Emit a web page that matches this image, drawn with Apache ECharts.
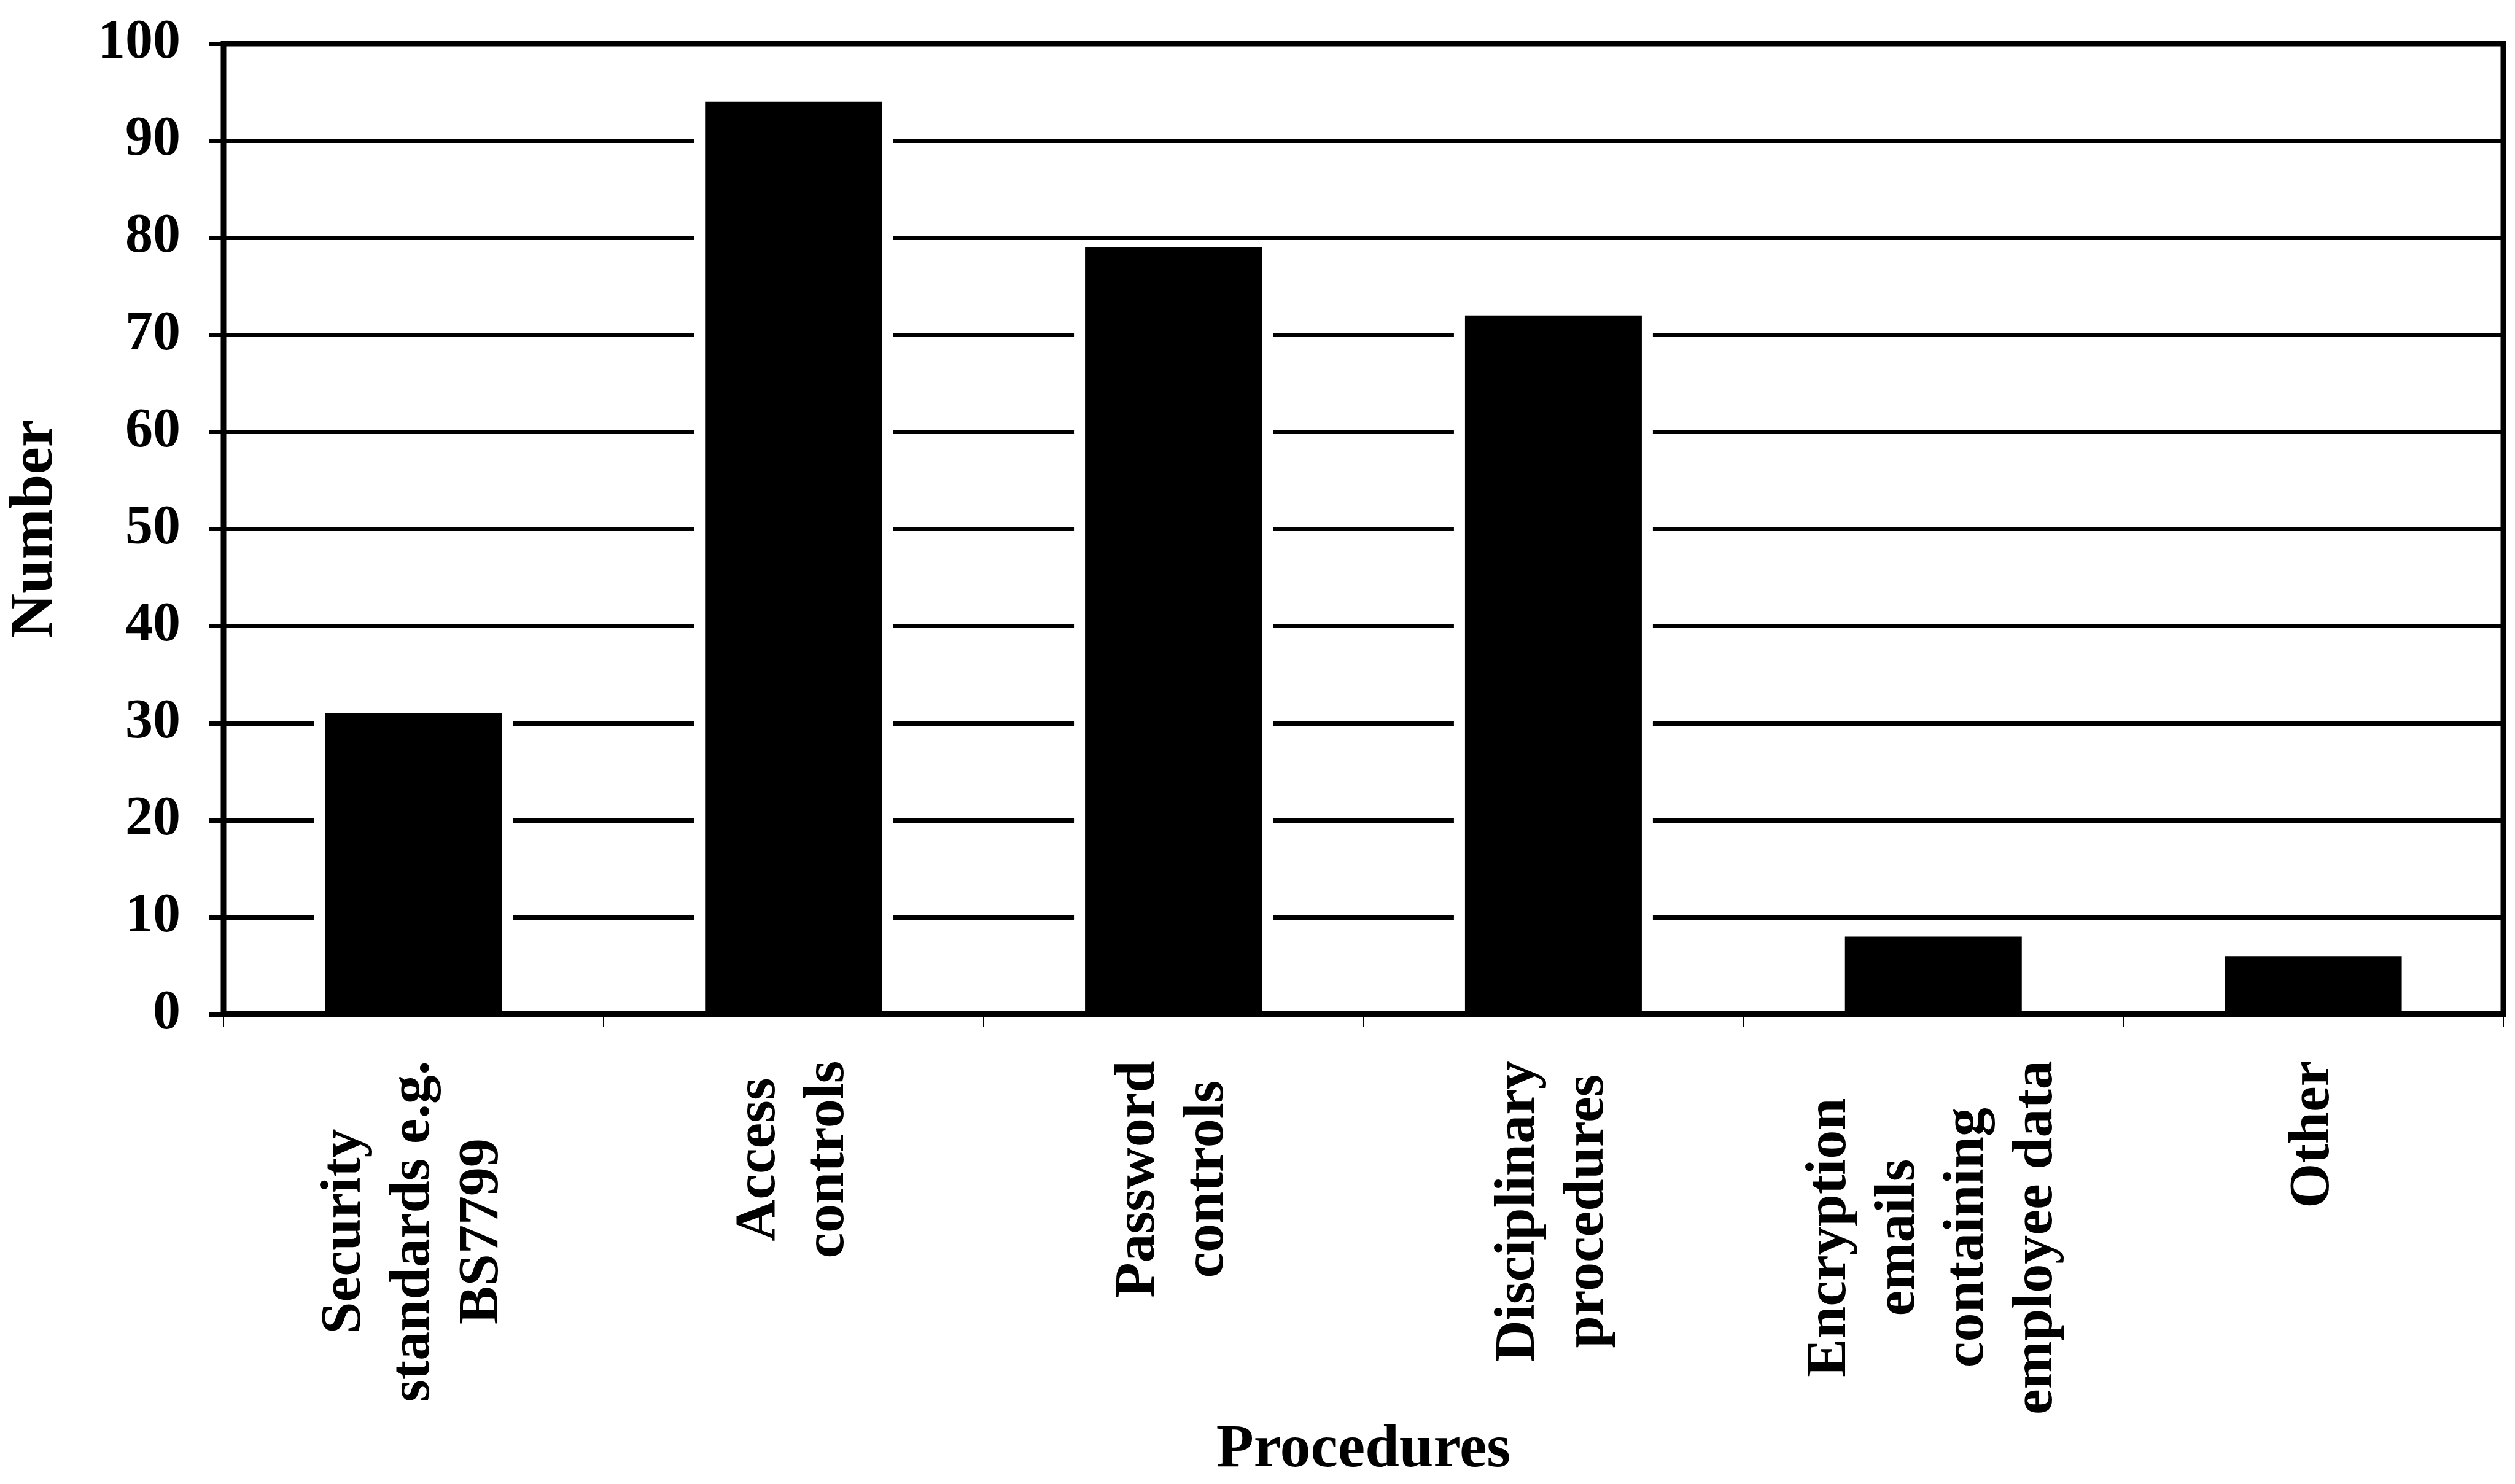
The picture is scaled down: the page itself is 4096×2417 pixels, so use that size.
<!DOCTYPE html>
<html>
<head>
<meta charset="utf-8">
<title>Procedures</title>
<script src="https://cdn.jsdelivr.net/npm/echarts@6/dist/echarts.min.js"></script>
<style>
  html, body { margin: 0; padding: 0; background: #ffffff; }
  #chart { width: 4096px; height: 2417px; }
</style>
</head>
<body>
<div id="chart"></div>
<script>
// Procedures in place, one bar per procedure (label lines kept separate)
const procedureLines = [
  ['Security', 'standards e.g.', 'BS7799'],
  ['Access', 'controls'],
  ['Password', 'controls'],
  ['Disciplinary', 'procedures'],
  ['Encryption', 'emails', 'containing', 'employee data'],
  ['Other']
];
const categories = procedureLines.map(lines => lines.join('\n'));
const counts = [31, 94, 79, 72, 8, 6];

// Value axis range
const yMin = 0;
const yMax = 100;
const yStep = 10;

const FONT = '"Liberation Serif", "Times New Roman", serif';
const LABEL_SIZE = 94;
const LABEL_LINE = 112;

// Each rotated label block is centred line by line, so give every
// category a rich style as wide as its longest line.
const measureCtx = document.createElement('canvas').getContext('2d');
measureCtx.font = 'bold ' + LABEL_SIZE + 'px ' + FONT;
const rich = {};
procedureLines.forEach((lines, i) => {
  const w = Math.ceil(Math.max(...lines.map(l => measureCtx.measureText(l).width)));
  rich['c' + i] = {
    width: w,
    align: 'center',
    fontFamily: FONT,
    fontWeight: 'bold',
    fontSize: LABEL_SIZE,
    lineHeight: LABEL_LINE,
    color: '#000'
  };
});

const chart = echarts.init(document.getElementById('chart'), null, { renderer: 'canvas' });

chart.setOption({
  animation: false,
  backgroundColor: '#ffffff',
  grid: {
    left: 358,
    right: 19,
    top: 71,
    bottom: 739,
    show: true,
    borderColor: '#000',
    borderWidth: 9,
    backgroundColor: 'transparent'
  },
  xAxis: [
    {
      type: 'category',
      data: categories,
      z: 10,
      name: 'Procedures',
      nameLocation: 'middle',
      nameGap: 639,
      nameTextStyle: {
        fontFamily: FONT,
        fontWeight: 'bold',
        fontSize: 100,
        color: '#000'
      },
      axisLine: { show: true, lineStyle: { color: '#000', width: 10 } },
      axisTick: { show: true, length: 20, lineStyle: { color: '#000', width: 2 } },
      axisLabel: {
        interval: 0,
        rotate: 90,
        margin: 75,
        formatter: (value, index) =>
          procedureLines[index].map(l => '{c' + index + '|' + l + '}').join('\n'),
        rich: rich
      },
      splitLine: { show: false }
    },
    {
      // companion axis for the white margin drawn round each bar
      type: 'category',
      data: categories,
      show: false
    }
  ],
  yAxis: {
    type: 'value',
    min: yMin,
    max: yMax,
    interval: yStep,
    name: 'Number',
    nameLocation: 'middle',
    nameRotate: 90,
    nameGap: 256,
    nameTextStyle: {
      fontFamily: FONT,
      fontWeight: 'bold',
      fontSize: 100,
      color: '#000'
    },
    axisLine: { show: true, lineStyle: { color: '#000', width: 8 } },
    axisTick: { show: true, length: 24, lineStyle: { color: '#000', width: 7 } },
    axisLabel: {
      margin: 70,
      fontFamily: FONT,
      fontWeight: 'bold',
      fontSize: 90,
      color: '#000'
    },
    splitLine: { show: true, lineStyle: { color: '#000', width: 7 } }
  },
  series: [
    {
      name: 'margin',
      type: 'bar',
      xAxisIndex: 1,
      data: counts,
      barWidth: 324,
      silent: true,
      itemStyle: { color: '#ffffff' }
    },
    {
      name: 'Number',
      type: 'bar',
      xAxisIndex: 0,
      data: counts,
      barWidth: 288,
      itemStyle: { color: '#000000' }
    }
  ]
});
</script>
</body>
</html>
